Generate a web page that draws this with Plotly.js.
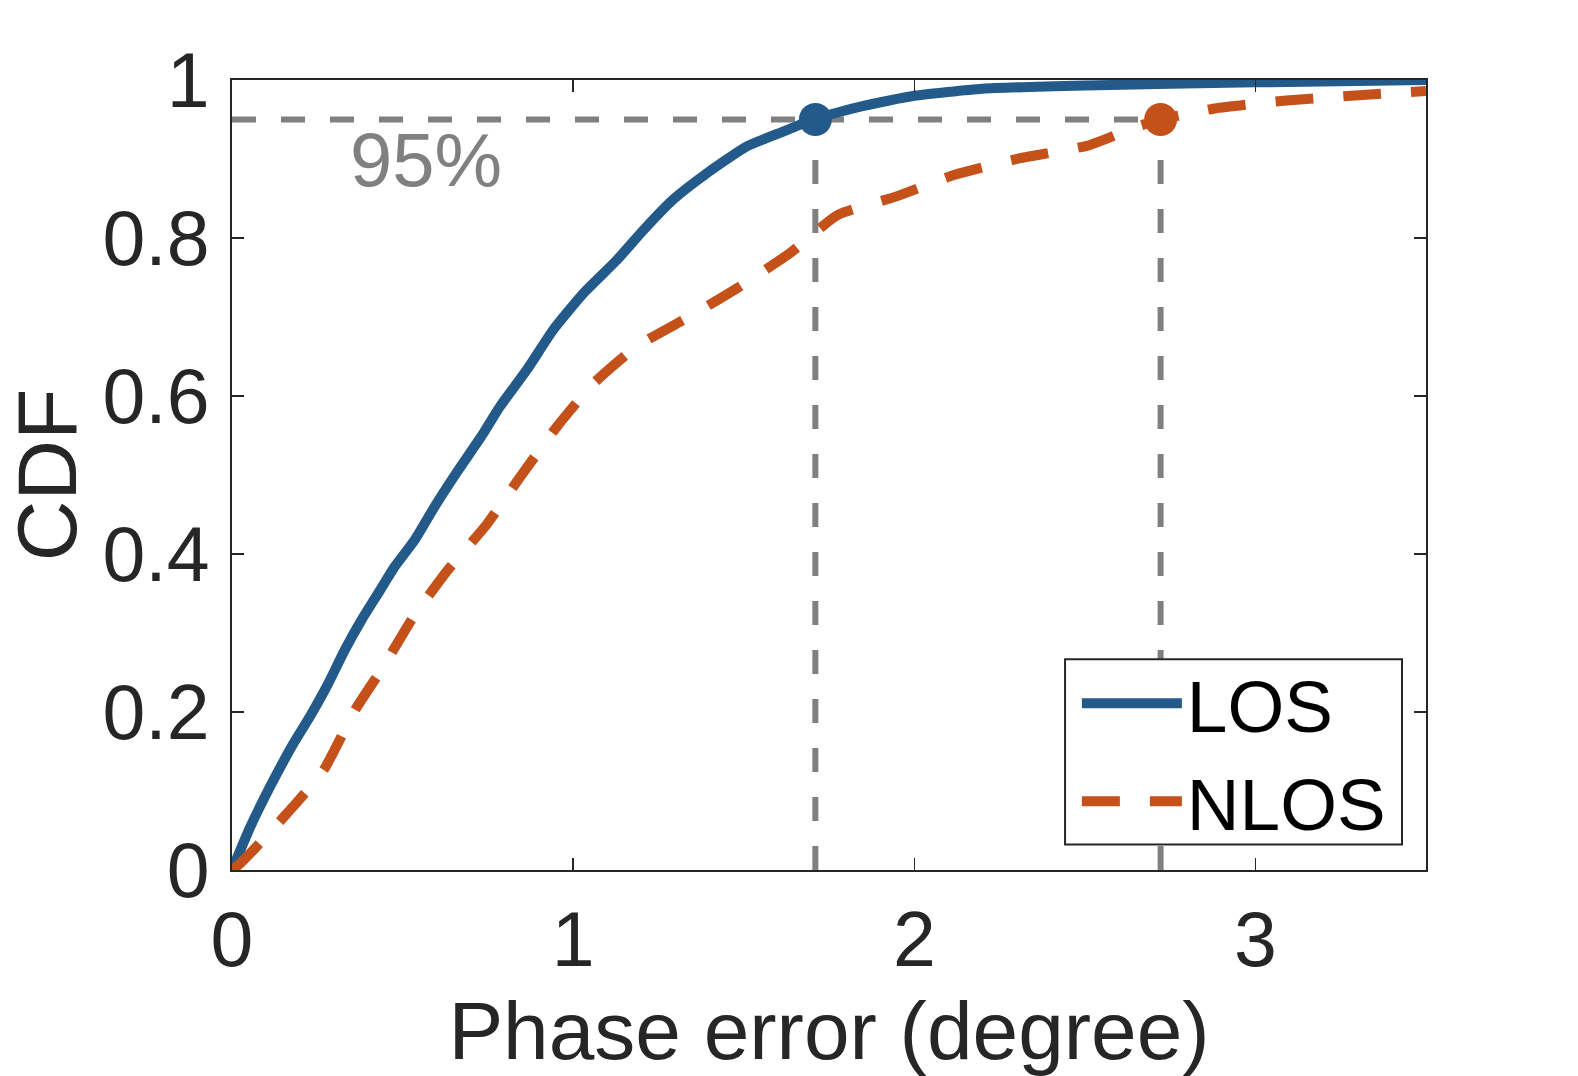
<!DOCTYPE html>
<html>
<head>
<meta charset="utf-8">
<script src="https://cdn.plot.ly/plotly-3.0.1.min.js"></script>
<style>
  html, body { margin: 0; padding: 0; background: #ffffff; }
  #chart { width: 1578px; height: 1076px; }
</style>
</head>
<body>
<div id="chart"></div>
<script>
// ---- data ----
const losX  = [0, 0.053, 0.111, 0.18, 0.228, 0.282, 0.33, 0.379, 0.428, 0.477, 0.536, 0.594, 0.663, 0.731, 0.786, 0.864, 0.942, 1.03, 1.128, 1.206, 1.294, 1.392, 1.509, 1.617, 1.71, 1.848, 2.0, 2.2, 2.5, 3.0, 3.5];
const losY  = [0, 0.054, 0.105, 0.16, 0.194, 0.236, 0.278, 0.316, 0.35, 0.384, 0.418, 0.46, 0.506, 0.549, 0.587, 0.633, 0.684, 0.73, 0.772, 0.81, 0.849, 0.882, 0.916, 0.935, 0.951, 0.967, 0.98, 0.989, 0.993, 0.997, 1.0];

const nlosX = [0, 0.023, 0.062, 0.16, 0.268, 0.36, 0.443, 0.531, 0.633, 0.746, 0.839, 0.952, 1.06, 1.187, 1.343, 1.49, 1.636, 1.775, 1.95, 2.118, 2.31, 2.508, 2.653, 2.722, 2.881, 3.091, 3.314, 3.5];
const nlosY = [0, 0.008, 0.025, 0.071, 0.126, 0.202, 0.257, 0.32, 0.38, 0.437, 0.494, 0.561, 0.616, 0.663, 0.701, 0.739, 0.781, 0.829, 0.853, 0.88, 0.901, 0.917, 0.941, 0.95, 0.964, 0.974, 0.981, 0.986];

const seriesNames = ["LOS", "NLOS"];
const level95 = 0.95;
const mark95X = [1.71, 2.722];   // x where each CDF reaches 95%
const label95 = "95%";

const xTickVals = [0, 1, 2, 3];
const xTickText = ["0", "1", "2", "3"];
const yTickVals = [0, 0.2, 0.4, 0.6, 0.8, 1];
const yTickText = ["0", "0.2", "0.4", "0.6", "0.8", "1"];

// ---- styling ----
const BLUE = "#245a8a";
const ORANGE = "#c4501a";
const GRAY = "#808080";
const INK = "#262626";
const FONT = "Liberation Sans, Arial, Helvetica, sans-serif";

const traces = [
  { x: losX, y: losY, name: seriesNames[0], mode: "lines", type: "scatter",
    line: { color: BLUE, width: 10, shape: "spline", smoothing: 0.5 } },
  { x: nlosX, y: nlosY, name: seriesNames[1], mode: "lines", type: "scatter",
    line: { color: ORANGE, width: 10, dash: "38px,30px", shape: "spline", smoothing: 0.5 } },
  { x: [mark95X[0]], y: [level95], mode: "markers", type: "scatter", showlegend: false,
    marker: { color: BLUE, size: 33 }, hoverinfo: "skip" },
  { x: [mark95X[1]], y: [level95], mode: "markers", type: "scatter", showlegend: false,
    marker: { color: ORANGE, size: 33 }, hoverinfo: "skip" }
];

const shapes = [
  { type: "line", layer: "below", xref: "x", yref: "y", x0: 0, x1: mark95X[1], y0: level95, y1: level95,
    line: { color: GRAY, width: 6, dash: "24px,25px" } },
  { type: "line", layer: "below", xref: "x", yref: "y", x0: mark95X[0], x1: mark95X[0], y0: 0, y1: level95,
    line: { color: GRAY, width: 6, dash: "24px,25px" } },
  { type: "line", layer: "below", xref: "x", yref: "y", x0: mark95X[1], x1: mark95X[1], y0: 0, y1: level95,
    line: { color: GRAY, width: 6, dash: "24px,25px" } },
  // legend frame
  { type: "rect", layer: "above", xref: "paper", yref: "paper",
    x0: 0.6977, x1: 0.9799, y0: 0.0323, y1: 0.2668,
    fillcolor: "#ffffff", line: { color: INK, width: 2 } }
];

const layout = {
  width: 1578, height: 1076,
  paper_bgcolor: "#ffffff", plot_bgcolor: "#ffffff",
  margin: { l: 232, r: 152, t: 80, b: 206, pad: 0 },
  font: { family: FONT, color: INK, size: 76 },
  showlegend: true,
  xaxis: {
    range: [0, 3.5], tickmode: "array", tickvals: xTickVals, ticktext: xTickText,
    ticks: "inside", ticklen: 12, tickwidth: 1.5, tickcolor: INK,
    showline: true, linecolor: INK, linewidth: 2, mirror: "ticks",
    showgrid: false, zeroline: false,
    tickfont: { family: FONT, size: 77, color: INK },
    ticklabelstandoff: 2,
    title: { text: "Phase error (degree)", font: { family: FONT, size: 82, color: INK }, standoff: 26 }
  },
  yaxis: {
    range: [0, 1], tickmode: "array", tickvals: yTickVals, ticktext: yTickText,
    ticks: "inside", ticklen: 12, tickwidth: 1.5, tickcolor: INK,
    showline: true, linecolor: INK, linewidth: 2, mirror: "ticks",
    showgrid: false, zeroline: false,
    tickfont: { family: FONT, size: 77, color: INK },
    ticklabelstandoff: 5,
    title: { text: "CDF", font: { family: FONT, size: 84, color: INK }, standoff: 40 }
  },
  legend: {
    x: 0.7076, xanchor: "left", y: 0.0185, yanchor: "bottom",
    bgcolor: "rgba(0,0,0,0)", borderwidth: 0,
    font: { family: FONT, size: 73, color: "#000000" },
    itemwidth: 100, tracegroupgap: 0
  },
  annotations: [
    { text: label95, xref: "x", yref: "y", x: 0.569, y: 0.899, showarrow: false,
      font: { family: FONT, size: 76, color: GRAY }, xanchor: "center", yanchor: "middle" }
  ],
  shapes: shapes
};

Plotly.newPlot("chart", traces, layout, { staticPlot: true, displayModeBar: false });
</script>
</body>
</html>
